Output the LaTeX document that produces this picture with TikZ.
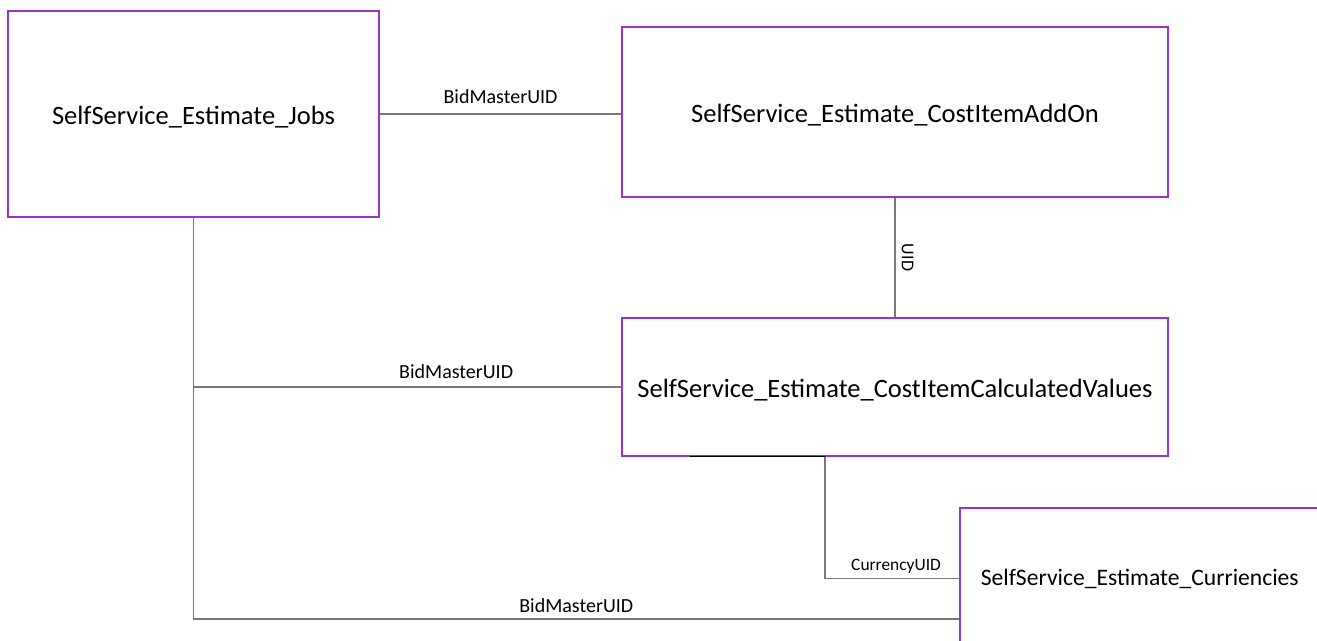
\documentclass[tikz,border=0pt]{standalone}
\usepackage{fontspec}
\setmainfont{Carlito}
\usetikzlibrary{calc}
\definecolor{boxpurple}{RGB}{153,51,204}
\definecolor{linegray}{RGB}{120,120,120}
\newcommand{\lowertext}[1]{\raisebox{-3.5pt}[\height][\depth]{#1}}
\begin{document}
\begin{tikzpicture}[x=1pt,y=-1pt,
  entity/.style={draw=boxpurple,line width=1.6pt,fill=white,inner sep=0pt,font=\fontsize{26.5}{30}\selectfont},
  rel/.style={draw=linegray,line width=1.3pt},
  lbl/.style={font=\fontsize{20}{24}\selectfont,inner sep=2pt},
  slbl/.style={font=\fontsize{17.4}{21}\selectfont,inner sep=2pt}]
\useasboundingbox (0,0) rectangle (1317,640);
\clip (0,0) rectangle (1317,640);
\node[entity,minimum width=371pt,minimum height=206pt] (jobs) at (193.5,114) {\lowertext{SelfService\_Estimate\_Jobs}};
\node[entity,minimum width=546pt,minimum height=170pt] (addon) at (895,112) {\lowertext{SelfService\_Estimate\_CostItemAddOn}};
\node[entity,minimum width=546pt,minimum height=138pt] (calc) at (895,387) {\lowertext{SelfService\_Estimate\_CostItemCalculatedValues}};
\node[entity,anchor=north west,minimum width=400pt,minimum height=142pt,text width=378pt,align=left,inner xsep=21pt,inner ysep=0pt,font=\fontsize{23.6}{28}\selectfont] (cur) at (959,507) {SelfService\_Estimate\_Curriencies};
\coordinate (cx) at (825,0);
\coordinate (blk) at (690,0);
\coordinate (cb) at (959,619);
% Jobs -- AddOn
\draw[rel] (jobs.east) -- (jobs.east -| addon.west) node[midway,above=8pt,lbl] {BidMasterUID};
% AddOn -- Calc
\draw[rel] (addon.south) -- (calc.north) node[midway,rotate=-90,anchor=south,inner sep=6pt,font=\fontsize{18}{21}\selectfont] {UID};
% Jobs -- Calc
\draw[rel] (jobs.south |- calc.west) -- (calc.west) node[pos=0.614,above=6pt,lbl] {BidMasterUID};
% Jobs -- Curriencies
\draw[rel] (jobs.south) |- (cb) node[pos=0.75,above=4pt,lbl] {BidMasterUID};
% Calc -- Curriencies
\draw[rel] (calc.south -| cx) |- (cur.west) node[pos=0.765,above=3pt,slbl] {CurrencyUID};
\draw[black,line width=1.3pt] (calc.south -| blk) -- (calc.south -| cx);
\end{tikzpicture}
\end{document}
